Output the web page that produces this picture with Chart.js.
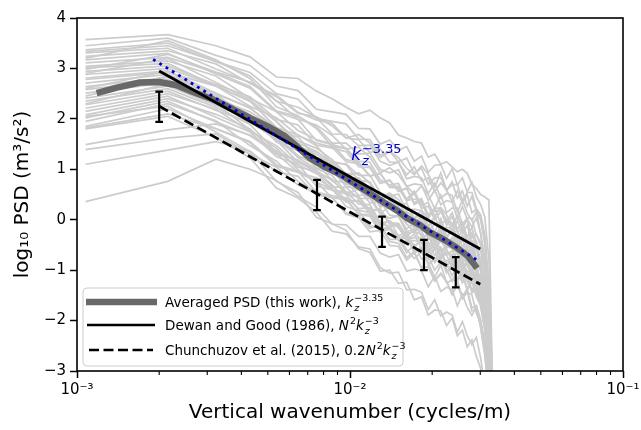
<!DOCTYPE html>
<html lang="en">
<head>
<meta charset="UTF-8">
<title>PSD vs vertical wavenumber</title>
<script src="https://cdn.jsdelivr.net/npm/chart.js"></script>
<style>
  body { margin: 0; background: #fff; }
  canvas { display: block; }
</style>
</head>
<body>
<canvas id="psdChart" width="641" height="430"></canvas>
<script>
// wavenumbers of the individual profiles (cycles/m)
const kz = [0.001075, 0.00215, 0.003226, 0.004301, 0.005376, 0.006452, 0.007527, 0.008602, 0.009677, 0.01075,
            0.01183, 0.0129, 0.01398, 0.01505, 0.01613, 0.0172, 0.01828, 0.01935, 0.02043, 0.02151,
            0.02258, 0.02366, 0.02473, 0.02581, 0.02688, 0.02796, 0.02903, 0.03011, 0.03118, 0.03226, 0.03333];

// log10 PSD of every profile (grey lines), one array per profile
const profiles = [
  [3.57, 3.67, 3.45, 3.23, 2.83, 2.80, 2.55, 2.40, 2.23, 2.10, 2.17, 2.02, 1.92, 1.68, 1.62, 1.55, 1.52, 1.24, 1.30, 1.10, 1.15, 1.05, 0.95, 1.00, 0.92, 0.70, 0.62, 0.50, 0.45, 0.39, -3.6],
  [3.37, 3.50, 3.14, 2.92, 2.50, 2.39, 2.01, 1.95, 1.90, 1.60, 1.59, 1.28, 1.36, 1.15, 1.22, 0.92, 1.02, 0.70, 0.83, 0.84, 0.57, 0.75, 0.43, 0.57, 0.27, 0.46, 0.17, 0.02, -0.50, -1.57, -3.4],
  [3.34, 3.45, 3.14, 2.85, 2.35, 2.23, 2.03, 1.70, 1.69, 1.47, 1.48, 1.16, 1.08, 1.14, 0.81, 0.86, 0.83, 0.52, 0.73, 0.43, 0.52, 0.48, 0.15, 0.39, 0.13, -0.02, 0.16, -0.27, -0.94, -2.21, -3.8],
  [3.31, 3.40, 2.99, 2.72, 2.36, 1.99, 1.88, 1.67, 1.40, 1.44, 1.24, 0.93, 1.03, 0.89, 0.66, 0.51, 0.67, 0.49, 0.22, 0.49, 0.14, 0.23, 0.23, -0.10, 0.04, 0.02, -0.31, -0.45, -0.88, -1.85, -3.5],
  [3.24, 3.35, 3.09, 2.70, 2.47, 2.13, 1.98, 1.91, 1.62, 1.59, 1.33, 1.40, 1.14, 1.14, 0.89, 1.05, 0.77, 0.83, 0.56, 0.73, 0.59, 0.36, 0.57, 0.33, 0.50, 0.14, 0.21, -0.01, -0.38, -1.34, -3.3],
  [3.17, 3.30, 2.89, 2.61, 2.14, 1.99, 1.57, 1.49, 1.41, 1.10, 1.06, 0.73, 0.79, 0.56, 0.62, 0.30, 0.39, 0.05, 0.18, 0.18, -0.11, 0.07, -0.26, -0.14, -0.44, -0.27, -0.57, -0.79, -1.37, -2.54, -3.9],
  [3.11, 3.22, 2.92, 2.64, 2.16, 2.04, 1.85, 1.52, 1.52, 1.30, 1.32, 1.00, 0.93, 0.99, 0.66, 0.71, 0.69, 0.38, 0.59, 0.30, 0.38, 0.35, 0.02, 0.26, 0.01, -0.15, 0.04, -0.28, -0.76, -1.82, -3.6],
  [3.04, 3.15, 2.85, 2.41, 2.14, 1.77, 1.59, 1.50, 1.19, 1.14, 0.87, 0.92, 0.64, 0.63, 0.37, 0.52, 0.23, 0.27, 0.00, 0.16, 0.01, -0.23, -0.02, -0.27, -0.11, -0.48, -0.42, -0.85, -1.53, -2.80, -4.0],
  [3.01, 3.10, 2.65, 2.35, 1.95, 1.56, 1.42, 1.19, 0.91, 0.93, 0.72, 0.39, 0.48, 0.33, 0.09, -0.07, 0.08, -0.11, -0.38, -0.12, -0.48, -0.39, -0.40, -0.74, -0.60, -0.63, -0.97, -1.17, -1.76, -2.84, -4.2],
  [2.94, 3.05, 2.68, 2.44, 1.99, 1.88, 1.48, 1.42, 1.35, 1.05, 1.03, 0.72, 0.78, 0.57, 0.63, 0.33, 0.42, 0.10, 0.23, 0.23, -0.04, 0.14, -0.19, -0.05, -0.35, -0.16, -0.46, -0.62, -1.14, -2.21, -3.7],
  [2.88, 3.00, 2.66, 2.35, 1.83, 1.68, 1.47, 1.12, 1.11, 0.88, 0.88, 0.54, 0.46, 0.51, 0.18, 0.21, 0.18, -0.14, 0.07, -0.23, -0.15, -0.19, -0.53, -0.30, -0.56, -0.72, -0.54, -1.02, -1.66, -2.83, -4.1],
  [2.81, 2.95, 2.51, 2.21, 1.82, 1.43, 1.30, 1.08, 0.80, 0.83, 0.61, 0.29, 0.38, 0.23, 0.00, -0.16, -0.01, -0.20, -0.47, -0.21, -0.56, -0.48, -0.48, -0.82, -0.69, -0.71, -1.05, -1.25, -1.73, -2.71, -4.2],
  [2.78, 2.92, 2.65, 2.25, 2.02, 1.67, 1.52, 1.44, 1.15, 1.11, 0.86, 0.92, 0.66, 0.66, 0.41, 0.57, 0.29, 0.34, 0.07, 0.24, 0.10, -0.14, 0.08, -0.16, 0.00, -0.36, -0.29, -0.51, -0.98, -1.85, -3.5],
  [2.71, 2.88, 2.49, 2.23, 1.77, 1.64, 1.23, 1.16, 1.09, 0.78, 0.75, 0.43, 0.49, 0.27, 0.33, 0.02, 0.11, -0.22, -0.09, -0.09, -0.37, -0.19, -0.52, -0.39, -0.69, -0.51, -0.81, -1.02, -1.60, -2.77, -4.0],
  [2.64, 2.82, 2.45, 2.09, 1.54, 1.37, 1.13, 0.77, 0.74, 0.49, 0.48, 0.13, 0.03, 0.07, -0.27, -0.24, -0.28, -0.62, -0.41, -0.72, -0.65, -0.70, -1.03, -0.81, -1.08, -1.25, -1.08, -1.52, -2.01, -2.89, -4.3],
  [2.58, 2.78, 2.39, 2.14, 1.79, 1.44, 1.34, 1.14, 0.87, 0.92, 0.73, 0.43, 0.53, 0.40, 0.17, 0.03, 0.19, 0.02, -0.25, 0.02, -0.32, -0.23, -0.23, -0.55, -0.41, -0.42, -0.75, -0.89, -1.31, -2.38, -3.7],
  [2.51, 2.72, 2.40, 1.94, 1.66, 1.27, 1.08, 0.98, 0.66, 0.61, 0.33, 0.37, 0.09, 0.07, -0.19, -0.05, -0.34, -0.31, -0.58, -0.42, -0.58, -0.82, -0.61, -0.87, -0.71, -1.09, -1.03, -1.37, -2.05, -3.12, -4.4],
  [2.41, 2.65, 2.27, 2.01, 1.56, 1.44, 1.03, 0.96, 0.90, 0.59, 0.56, 0.25, 0.31, 0.09, 0.15, -0.15, -0.06, -0.39, -0.26, -0.26, -0.54, -0.36, -0.68, -0.55, -0.85, -0.67, -0.97, -1.23, -1.75, -2.82, -4.1],
  [2.35, 2.60, 2.23, 1.89, 1.34, 1.18, 0.94, 0.58, 0.56, 0.31, 0.30, -0.05, -0.14, -0.10, -0.44, -0.41, -0.45, -0.78, -0.57, -0.88, -0.81, -0.85, -1.19, -0.97, -1.23, -1.40, -1.23, -1.67, -2.16, -3.04, -4.4],
  [2.28, 2.55, 2.17, 1.93, 1.60, 1.25, 1.16, 0.96, 0.70, 0.75, 0.57, 0.27, 0.38, 0.25, 0.02, -0.12, 0.05, -0.12, -0.39, -0.11, -0.46, -0.36, -0.36, -0.68, -0.53, -0.55, -0.87, -1.00, -1.43, -2.49, -3.8],
  [2.21, 2.50, 2.19, 1.75, 1.47, 1.09, 0.91, 0.81, 0.50, 0.45, 0.18, 0.22, -0.06, -0.07, -0.33, -0.19, -0.48, -0.44, -0.71, -0.55, -0.70, -0.94, -0.74, -0.99, -0.83, -1.20, -1.14, -1.47, -2.06, -3.03, -4.3],
  [2.15, 2.45, 2.03, 1.74, 1.25, 1.10, 0.67, 0.59, 0.51, 0.19, 0.14, -0.19, -0.14, -0.37, -0.31, -0.63, -0.55, -0.89, -0.76, -0.77, -1.05, -0.88, -1.21, -1.09, -1.40, -1.22, -1.53, -1.70, -2.13, -3.01, -4.5],
  [2.08, 2.40, 2.09, 1.80, 1.30, 1.18, 0.98, 0.65, 0.64, 0.42, 0.43, 0.11, 0.03, 0.09, -0.24, -0.19, -0.22, -0.53, -0.32, -0.62, -0.53, -0.57, -0.90, -0.66, -0.92, -1.07, -0.89, -1.32, -1.89, -3.06, -4.3],
  [2.02, 2.35, 1.94, 1.67, 1.31, 0.94, 0.83, 0.62, 0.35, 0.39, 0.19, -0.12, -0.02, -0.16, -0.39, -0.54, -0.38, -0.56, -0.83, -0.56, -0.91, -0.82, -0.82, -1.15, -1.01, -1.03, -1.36, -1.55, -2.03, -3.00, -4.2],
  [1.95, 2.30, 1.96, 1.47, 1.16, 0.76, 0.55, 0.44, 0.11, 0.04, -0.24, -0.21, -0.51, -0.53, -0.80, -0.66, -0.96, -0.94, -1.21, -1.06, -1.22, -1.47, -1.26, -1.52, -1.37, -1.75, -1.70, -1.99, -2.43, -3.21, -4.6],
  [1.85, 2.20, 1.81, 1.55, 1.09, 0.96, 0.55, 0.48, 0.41, 0.10, 0.07, -0.25, -0.19, -0.41, -0.35, -0.66, -0.57, -0.90, -0.77, -0.77, -1.05, -0.87, -1.20, -1.07, -1.37, -1.19, -1.49, -1.70, -2.18, -3.05, -4.4],
  [1.82, 2.10, 1.80, 1.53, 1.06, 0.94, 0.76, 0.43, 0.44, 0.22, 0.24, -0.08, -0.14, -0.08, -0.40, -0.35, -0.37, -0.68, -0.47, -0.76, -0.67, -0.71, -1.03, -0.79, -1.05, -1.20, -1.01, -1.43, -1.90, -2.97, -4.3],
  [1.49, 1.78, 1.90, 1.68, 1.37, 1.04, 0.97, 0.78, 0.53, 0.60, 0.42, 0.13, 0.25, 0.13, -0.09, -0.22, -0.05, -0.22, -0.48, -0.20, -0.54, -0.44, -0.43, -0.75, -0.59, -0.60, -0.92, -1.20, -1.86, -3.02, -4.2],
  [1.39, 1.62, 1.70, 1.30, 1.04, 0.69, 0.52, 0.44, 0.13, 0.09, -0.17, -0.11, -0.39, -0.39, -0.65, -0.49, -0.78, -0.73, -1.00, -0.84, -0.98, -1.22, -1.01, -1.25, -1.09, -1.45, -1.39, -1.72, -2.19, -3.16, -4.4],
  [1.10, 1.38, 1.55, 1.36, 0.95, 0.86, 0.49, 0.44, 0.39, 0.11, 0.10, -0.07, -0.02, -0.32, -0.25, -0.54, -0.36, -0.76, -0.56, -0.61, -0.94, -0.69, -1.01, -0.87, -1.15, -0.96, -1.25, -1.45, -2.01, -2.97, -4.3],
  [0.36, 0.76, 1.20, 1.00, 0.78, 0.46, 0.25, -0.09, -0.10, -0.33, -0.33, -0.66, -0.74, -0.69, -1.02, -0.98, -1.01, -1.33, -1.12, -1.42, -1.34, -1.38, -1.71, -1.48, -1.74, -1.90, -1.72, -2.15, -2.70, -3.5, -4.8],
  [3.20, 3.55, 3.17, 2.80, 2.24, 2.06, 1.81, 1.45, 1.41, 1.16, 1.14, 0.79, 0.69, 0.72, 0.38, 0.41, 0.36, 0.03, 0.23, -0.08, -0.01, -0.06, -0.40, -0.18, -0.45, -0.63, -0.46, -0.91, -1.50, -2.68, -4.0],
  [2.90, 3.20, 2.72, 2.38, 1.94, 1.52, 1.36, 1.12, 0.82, 0.83, 0.60, 0.26, 0.34, 0.17, -0.08, -0.25, -0.10, -0.30, -0.59, -0.33, -0.69, -0.62, -0.63, -0.97, -0.85, -0.89, -1.23, -1.44, -1.94, -2.92, -4.3],
  [2.45, 2.85, 2.49, 1.98, 1.64, 1.23, 1.01, 0.88, 0.55, 0.47, 0.17, 0.20, -0.10, -0.13, -0.41, -0.28, -0.59, -0.56, -0.85, -0.70, -0.86, -1.11, -0.91, -1.17, -1.03, -1.42, -1.37, -1.67, -2.11, -2.99, -4.4],
  [2.05, 2.25, 1.74, 1.35, 0.76, 0.54, 0.05, -0.08, -0.21, -0.57, -0.65, -1.02, -1.00, -1.26, -1.24, -1.59, -1.53, -1.89, -1.79, -1.81, -2.10, -1.95, -2.30, -2.19, -2.52, -2.38, -2.71, -2.95, -3.4, -4.0, -5.0],
  [1.80, 2.05, 1.63, 1.23, 0.63, 0.43, 0.15, -0.23, -0.28, -0.54, -0.58, -0.95, -1.06, -1.04, -1.39, -1.38, -1.44, -1.78, -1.59, -1.91, -1.83, -1.89, -2.23, -2.02, -2.30, -2.48, -2.33, -2.75, -3.3, -4.0, -5.0],
  [2.60, 2.95, 2.43, 2.06, 1.58, 1.14, 0.96, 0.69, 0.38, 0.37, 0.13, -0.23, -0.16, -0.33, -0.59, -0.77, -0.64, -0.85, -1.15, -0.90, -1.25, -1.20, -1.21, -1.56, -1.44, -1.49, -1.85, -2.06, -2.56, -3.4, -4.8],
  [2.30, 2.70, 2.31, 1.78, 1.42, 0.99, 0.74, 0.61, 0.26, 0.18, -0.13, -0.12, -0.43, -0.47, -0.75, -0.63, -0.95, -0.93, -1.22, -1.08, -1.23, -1.49, -1.29, -1.56, -1.42, -1.81, -1.78, -2.13, -2.63, -3.5, -4.9],
  [3.45, 3.60, 3.26, 3.06, 2.65, 2.56, 2.19, 2.14, 2.09, 1.81, 1.80, 1.50, 1.58, 1.38, 1.45, 1.16, 1.26, 0.94, 1.08, 1.09, 0.82, 1.01, 0.69, 0.83, 0.55, 0.74, 0.45, 0.30, 0.05, -0.8, -3.4],
  [2.98, 3.28, 2.93, 2.73, 2.44, 2.11, 2.04, 1.86, 1.62, 1.69, 1.52, 1.23, 1.35, 1.23, 1.02, 0.89, 1.07, 0.90, 0.65, 0.93, 0.59, 0.69, 0.70, 0.38, 0.54, 0.54, 0.22, 0.10, -0.3, -1.3, -3.6]
];

// averaged PSD (thick dark grey)
const avgK = [0.00118, 0.0014, 0.0017, 0.002, 0.0023, 0.0027, 0.0031, 0.0037, 0.0043, 0.005, 0.0057, 0.0064, 0.0071, 0.008,
              0.0092, 0.0105, 0.012, 0.0135, 0.015, 0.0162, 0.018, 0.0195, 0.021, 0.0225, 0.025, 0.027, 0.0292];
const avgPsd = [2.51, 2.62, 2.72, 2.73, 2.67, 2.52, 2.40, 2.20, 2.02, 1.85, 1.68, 1.45, 1.23, 1.06,
                0.90, 0.70, 0.50, 0.32, 0.17, 0.03, -0.10, -0.24, -0.33, -0.42, -0.58, -0.72, -0.96];

// reference spectra
const dewanK = [0.002, 0.03];
const dewanPsd = [2.95, -0.58];
const chunK = [0.002, 0.03];
const chunPsd = [2.25, -1.28];
const fitK = [0.0019, 0.029];
const fitPsd = [3.18, -0.79];

// error bars on the Chunchuzov line
const errK = [0.002, 0.00757, 0.0131, 0.01866, 0.0244];
const errMid = [2.24, 0.49, -0.24, -0.70, -1.04];
const errHalf = [0.30, 0.30, 0.30, 0.30, 0.30];

// axis ticks
const xMajor = [0.001, 0.01, 0.1];
const xMajorLabels = ['10\u207B\u00B3', '10\u207B\u00B2', '10\u207B\u00B9'];
const xMinor = [0.002, 0.003, 0.004, 0.005, 0.006, 0.007, 0.008, 0.009,
                0.02, 0.03, 0.04, 0.05, 0.06, 0.07, 0.08, 0.09];

const FONT = '"DejaVu Sans"';
const BLUE = '#0000cc';

function pts(xs, ys) {
  return xs.map((x, i) => ({ x: x, y: ys[i] }));
}

// draws text with italic / sub / superscript pieces, returns end x
function drawRuns(ctx, x, y, runs, fs, scale) {
  const small = fs * (scale || 0.7);
  runs.forEach(r => {
    if (r.sub !== undefined || r.sup !== undefined) {
      let w1 = 0, w2 = 0;
      if (r.sub) {
        ctx.font = 'italic ' + small + 'px ' + FONT;
        ctx.fillText(r.sub, x, y + fs * 0.27);
        w1 = ctx.measureText(r.sub).width;
      }
      if (r.sup) {
        ctx.font = small + 'px ' + FONT;
        ctx.fillText(r.sup, x, y - fs * 0.45);
        w2 = ctx.measureText(r.sup).width;
      }
      x += Math.max(w1, w2);
    } else {
      ctx.font = (r.it ? 'italic ' : '') + fs + 'px ' + FONT;
      ctx.fillText(r.t, x, y);
      x += ctx.measureText(r.t).width + (r.it ? 1 : 0);
    }
  });
  return x;
}

const legendRows = [
  [{ t: 'Averaged PSD (this work), ' }, { t: 'k', it: true }, { sub: 'z', sup: '\u22123.35' }],
  [{ t: 'Dewan and Good (1986), ' }, { t: 'N', it: true }, { sup: '2' }, { t: 'k', it: true }, { sub: 'z', sup: '\u22123' }],
  [{ t: 'Chunchuzov et al. (2015), 0.2' }, { t: 'N', it: true }, { sup: '2' }, { t: 'k', it: true }, { sub: 'z', sup: '\u22123' }]
];

const extras = {
  id: 'extras',
  afterDatasetsDraw(chart) {
    const { ctx, chartArea: ca, scales: { x, y } } = chart;
    ctx.save();
    // error bars
    ctx.strokeStyle = '#000';
    ctx.lineWidth = 2.2;
    errK.forEach((k, i) => {
      const px = x.getPixelForValue(k);
      const top = y.getPixelForValue(errMid[i] + errHalf[i]);
      const bot = y.getPixelForValue(errMid[i] - errHalf[i]);
      ctx.beginPath();
      ctx.moveTo(px, top); ctx.lineTo(px, bot);
      ctx.moveTo(px - 3.8, top); ctx.lineTo(px + 3.8, top);
      ctx.moveTo(px - 3.8, bot); ctx.lineTo(px + 3.8, bot);
      ctx.stroke();
    });
    // frame
    ctx.lineWidth = 1.6;
    ctx.strokeRect(ca.left, ca.top, ca.right - ca.left, ca.bottom - ca.top);
    // minor ticks on the log axis
    ctx.lineWidth = 1.1;
    ctx.beginPath();
    xMinor.forEach(v => {
      const px = x.getPixelForValue(v);
      ctx.moveTo(px, ca.bottom); ctx.lineTo(px, ca.bottom + 4);
    });
    ctx.stroke();
    ctx.restore();
  },
  afterDraw(chart) {
    const { ctx, chartArea: ca, scales: { x, y } } = chart;
    ctx.save();
    ctx.textBaseline = 'alphabetic';
    ctx.textAlign = 'left';

    // slope annotation
    ctx.fillStyle = BLUE;
    drawRuns(ctx, x.getPixelForValue(0.0101), y.getPixelForValue(1.18),
      [{ t: 'k', it: true }, { sub: 'z', sup: '\u22123.35' }], 17, 0.76);

    // legend box
    const bx = ca.left + 6, by = ca.bottom - 83, bw = 320, bh = 78;
    ctx.beginPath();
    ctx.roundRect(bx, by, bw, bh, 4);
    ctx.fillStyle = 'rgba(255,255,255,0.8)';
    ctx.fill();
    ctx.strokeStyle = '#cccccc';
    ctx.lineWidth = 1;
    ctx.stroke();

    const rowsY = [by + 14, by + 37, by + 62];
    // handles
    ctx.lineCap = 'butt';
    ctx.strokeStyle = '#686868';
    ctx.lineWidth = 6.5;
    ctx.beginPath(); ctx.moveTo(bx + 3, rowsY[0]); ctx.lineTo(bx + 74, rowsY[0]); ctx.stroke();
    ctx.strokeStyle = '#000';
    ctx.lineWidth = 2.7;
    ctx.beginPath(); ctx.moveTo(bx + 4, rowsY[1]); ctx.lineTo(bx + 72, rowsY[1]); ctx.stroke();
    ctx.setLineDash([10, 4.5]);
    ctx.beginPath(); ctx.moveTo(bx + 6, rowsY[2]); ctx.lineTo(bx + 70, rowsY[2]); ctx.stroke();
    ctx.setLineDash([]);

    ctx.fillStyle = '#000';
    legendRows.forEach((runs, i) => drawRuns(ctx, bx + 82, rowsY[i] + 5, runs, 13.5));
    ctx.restore();
  }
};

const datasets = [
  { data: pts(fitK, fitPsd), borderColor: BLUE, borderWidth: 2.8, borderDash: [2.8, 4.6], order: 1 },
  { data: pts(dewanK, dewanPsd), borderColor: '#000', borderWidth: 2.7, order: 2 },
  { data: pts(chunK, chunPsd), borderColor: '#000', borderWidth: 2.7, borderDash: [10, 4.5], order: 3 },
  { data: pts(avgK, avgPsd), borderColor: '#686868', borderWidth: 6.5, borderJoinStyle: 'round', order: 4 }
];
profiles.forEach(p => {
  datasets.push({ data: pts(kz, p), borderColor: '#cccccc', borderWidth: 1.7, order: 10 });
});
datasets.forEach(d => { d.showLine = true; d.pointRadius = 0; d.fill = false; });

Chart.defaults.font.family = FONT;
Chart.defaults.color = '#000';

new Chart(document.getElementById('psdChart'), {
  type: 'scatter',
  data: { datasets: datasets },
  options: {
    responsive: false,
    animation: false,
    devicePixelRatio: 1,
    layout: { padding: { top: 18, right: 18, left: 0, bottom: 0 } },
    plugins: { legend: { display: false }, tooltip: { enabled: false } },
    scales: {
      x: {
        type: 'logarithmic',
        min: 0.001,
        max: 0.1,
        border: { display: false },
        grid: { drawOnChartArea: false, tickLength: 7, tickWidth: 1.5, tickColor: '#000' },
        ticks: {
          autoSkip: false,
          maxRotation: 0,
          padding: 3,
          font: { size: 15 },
          callback: function (value) {
            const i = xMajor.findIndex(m => Math.abs(value / m - 1) < 1e-6);
            return i >= 0 ? xMajorLabels[i] : null;
          }
        },
        title: { display: true, text: 'Vertical wavenumber (cycles/m)', font: { size: 20 }, padding: { top: 0, bottom: 5 } },
        afterFit: function (s) { s.height = 59; s.paddingLeft = 0; s.paddingRight = 0; }
      },
      y: {
        min: -3,
        max: 4,
        border: { display: false },
        grid: { drawOnChartArea: false, tickLength: 7, tickWidth: 1.5, tickColor: '#000' },
        ticks: {
          stepSize: 1,
          padding: 4,
          font: { size: 15 },
          callback: v => (v < 0 ? '\u2212' + Math.abs(v) : String(v))
        },
        title: { display: true, text: 'log\u2081\u2080 PSD (m\u00B3/s\u00B2)', font: { size: 20 }, padding: { top: 11, bottom: 0 } },
        afterFit: function (s) { s.width = 77; s.paddingTop = 0; s.paddingBottom = 0; }
      }
    }
  },
  plugins: [extras]
});
</script>
</body>
</html>
